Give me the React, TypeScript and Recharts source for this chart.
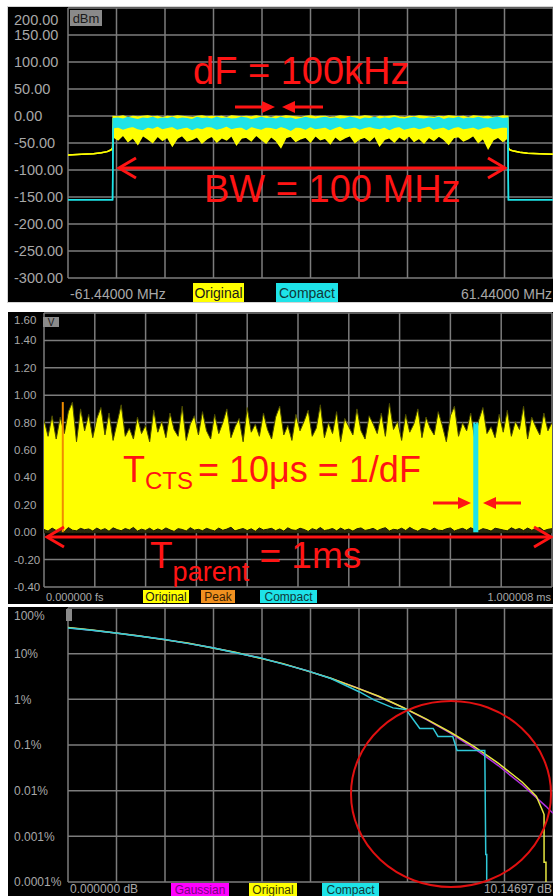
import React from 'react';
import { ComposedChart, Area, Line, XAxis, YAxis, CartesianGrid } from 'recharts';

const FONT = '"Liberation Sans", Arial, sans-serif';
const RED = '#ff1414';
const GRID = '#7c7c7c';
const LABEL = '#a8a8a8';

// ---------- panel 1: spectrum (dBm vs MHz) ----------
const specXTicks = [-61.44, -49.152, -36.864, -24.576, -12.288, 0, 12.288, 24.576, 36.864, 49.152, 61.44];
const specYTicks = [200, 150, 100, 50, 0, -50, -100, -150, -200, -250, -300];

const leftFreqs = [-61.44, -58, -55, -53, -51.5, -50.6, -50.15];
const leftOriginal = [-72, -71, -70, -68, -66, -63, -60];
const rightFreqs = [50.15, 50.6, 51.5, 53, 55, 58, 61.44];
const rightOriginal = [-60, -63, -65, -67, -69, -70, -71];
const compactFloor = -155;

// in-band samples, -50 MHz to +50 MHz every 1.25 MHz
const origLow = [
  -38, -44, -35, -47, -40, -52, -36, -42, -49, -37,
  -45, -39, -55, -41, -36, -46, -43, -38, -50, -42,
  -37, -48, -40, -44, -36, -53, -41, -39, -46, -35,
  -43, -50, -38, -45, -58, -40, -37, -47, -42, -39,
  -48, -36, -44, -41, -51, -38, -45, -40, -36, -49,
  -42, -39, -46, -37, -55, -43, -40, -48, -38, -44,
  -36, -47, -41, -50, -39, -45, -37, -43, -52, -40,
  -38, -46, -42, -36, -49, -41, -60, -44, -39, -47,
  -40,
];
const origHigh = [
  -1, -2, 0, -3, -1, -2, -1, 0, -2, -1,
  -3, -1, -2, 0, -1, -2, -3, -1, 0, -2,
  -1, -2, -1, -3, 0, -1, -2, -1, -2, 0,
  -2, -1, -3, -1, -2, 0, -1, -2, -3, -1,
  0, -2, -1, -1, -3, -2, 0, -1, -2, -1,
  -2, 0, -1, -3, -1, -2, -1, 0, -2, -3,
  -1, -2, 0, -1, -2, -3, -1, -2, 0, -1,
  -2, -1, -3, 0, -1, -2, -1, -3, -2, 0,
  -1,
];
const compactLow = [
  -22, -20, -24, -21, -19, -23, -25, -20, -22, -18,
  -23, -21, -19, -24, -22, -20, -25, -21, -23, -19,
  -20, -24, -22, -18, -23, -21, -20, -25, -19, -22,
  -24, -20, -21, -23, -19, -22, -26, -20, -21, -24,
  -19, -23, -22, -20, -25, -21, -18, -23, -22, -20,
  -24, -21, -19, -22, -23, -20, -25, -21, -19, -24,
  -22, -20, -23, -21, -18, -24, -22, -20, -25, -21,
  -19, -23, -22, -20, -24, -21, -19, -23, -22, -20,
  -21,
];
const compactHigh = [
  -5, -4, -6, -3, -5, -7, -4, -5, -3, -6,
  -4, -5, -3, -6, -4, -5, -7, -3, -5, -4,
  -6, -3, -5, -4, -6, -5, -3, -4, -7, -5,
  -3, -5, -4, -6, -3, -5, -4, -7, -5, -3,
  -5, -6, -4, -3, -5, -4, -6, -5, -3, -4,
  -7, -4, -5, -3, -6, -4, -5, -3, -5, -6,
  -4, -3, -5, -6, -4, -5, -3, -7, -4, -5,
  -3, -6, -4, -5, -3, -5, -6, -4, -3, -5,
  -4,
];

const spectrumRows = [
  ...leftFreqs.map((f, i) => ({ f, oLo: leftOriginal[i], oHi: leftOriginal[i], cLo: compactFloor, cHi: compactFloor })),
  ...origLow.map((v, i) => ({ f: -50 + i * 1.25, oLo: v, oHi: origHigh[i], cLo: compactLow[i], cHi: compactHigh[i] })),
  ...rightFreqs.map((f, i) => ({ f, oLo: rightOriginal[i], oHi: rightOriginal[i], cLo: compactFloor, cHi: compactFloor })),
];

// ---------- panel 2: time envelope (V vs ms) ----------
const timeXTicks = [0, 0.1, 0.2, 0.3, 0.4, 0.5, 0.6, 0.7, 0.8, 0.9, 1.000008];
const timeYTicks = [1.6, 1.4, 1.2, 1.0, 0.8, 0.6, 0.4, 0.2, 0, -0.2, -0.4];

const envelopeTop = [
  0.82, 0.70, 0.85, 0.68, 0.84, 0.72, 0.88, 0.95, 0.66, 0.90, 0.74, 0.86, 0.69, 0.83,
  0.91, 0.71, 0.87, 0.67, 0.80, 0.93, 0.70, 0.76, 0.68, 0.84, 0.72, 0.78, 0.66, 0.89,
  0.73, 0.81, 0.69, 0.87, 0.75, 0.70, 0.92, 0.67, 0.79, 0.85, 0.71, 0.88, 0.74, 0.68,
  0.86, 0.72, 0.80, 0.90, 0.69, 0.77, 0.83, 0.66, 0.91, 0.73, 0.79, 0.70, 0.87, 0.75,
  0.68, 0.84, 0.92, 0.71, 0.78, 0.67, 0.86, 0.74, 0.81, 0.89, 0.70, 0.76, 0.93, 0.69,
  0.80, 0.72, 0.88, 0.66, 0.83, 0.77, 0.71, 0.90, 0.74, 0.68, 0.85, 0.79, 0.72, 0.87,
  0.70, 0.94, 0.75, 0.81, 0.67, 0.86, 0.73, 0.79, 0.90, 0.69, 0.84, 0.76, 0.71, 0.88,
  0.78, 0.66, 0.85, 0.92, 0.70, 0.80, 0.74, 0.87, 0.68, 0.82, 0.91, 0.72, 0.77, 0.69,
  0.86, 0.73, 0.89, 0.70, 0.81, 0.75, 0.92, 0.68, 0.84, 0.77, 0.71, 0.87, 0.74, 0.80,
];
const envelopeFloor = [
  0.020, 0.008, 0.030, 0.012, 0.025, 0.006, 0.034, 0.015, 0.010, 0.028, 0.018, 0.024, 0.009, 0.030,
  0.014, 0.026, 0.007, 0.032, 0.019, 0.011, 0.027, 0.016, 0.035, 0.008, 0.022, 0.013, 0.029, 0.010,
  0.024, 0.012, 0.031, 0.017, 0.006, 0.026, 0.020, 0.009, 0.033, 0.015, 0.021, 0.011, 0.028, 0.018,
  0.009, 0.030, 0.014, 0.023, 0.036, 0.010, 0.019, 0.027, 0.012, 0.025, 0.007, 0.031, 0.016, 0.022,
  0.028, 0.011, 0.024, 0.008, 0.032, 0.017, 0.013, 0.029, 0.020, 0.006, 0.026, 0.015, 0.034, 0.012,
  0.018, 0.027, 0.010, 0.030, 0.014, 0.023, 0.008, 0.025, 0.031, 0.013, 0.019, 0.028, 0.011, 0.024,
  0.033, 0.009, 0.021, 0.016, 0.029, 0.012, 0.035, 0.018, 0.007, 0.027, 0.022, 0.010, 0.030, 0.015,
  0.012, 0.025, 0.031, 0.009, 0.020, 0.028, 0.014, 0.033, 0.017, 0.011, 0.026, 0.019, 0.008, 0.029,
  0.023, 0.016, 0.010, 0.032, 0.018, 0.027, 0.012, 0.030, 0.015, 0.024, 0.034, 0.011, 0.021, 0.026,
];
const envelopeRows = envelopeTop.map((v, i) => ({ t: i * 0.008, v, g: envelopeFloor[i] }));

const peakTime = [0.037, 0.037];
const peakLevel = [0, 0.95];
const peakRows = peakTime.map((t, i) => ({ t, v: peakLevel[i] }));

const compactTime = [0.845, 0.8475, 0.85, 0.8525, 0.855];
const compactLevel = [0.79, 0.8, 0.78, 0.8, 0.79];
const compactRows = compactTime.map((t, i) => ({ t, v: compactLevel[i] }));

// ---------- panel 3: CCDF (% vs dB) ----------
const ccdfXTicks = [0, 1.014697, 2.029394, 3.044091, 4.058788, 5.073485, 6.088182, 7.102879, 8.117576, 9.132273, 10.14697];
const ccdfYTicks = [100, 10, 1, 0.1, 0.01, 0.001, 0.0001];
const ccdfYLabels = ['100%', '10%', '1%', '0.1%', '0.01%', '0.001%', '0.0001%'];

const gaussDb = [0, 0.5, 1, 1.5, 2, 2.5, 3, 3.5, 4, 4.5, 5, 5.5, 6, 6.5, 7, 7.5, 8, 8.5, 9, 9.5, 10, 10.147];
const gaussPct = [36.8, 32.6, 28.4, 24.3, 20.5, 16.9, 13.6, 10.6, 8.1, 5.97, 4.23, 2.88, 1.87, 1.15, 0.666, 0.361, 0.182, 0.0842, 0.0355, 0.0135, 0.00454, 0.0032];

const origDb = [0, 0.5, 1, 1.5, 2, 2.5, 3, 3.5, 4, 4.5, 5, 5.5, 6, 6.5, 7, 7.5, 8, 8.5, 9, 9.5, 9.8, 9.94, 9.96, 9.96, 10.0, 10.0];
const origPct = [37.2, 32.9, 28.3, 24.5, 20.3, 17.1, 13.5, 10.7, 8.0, 6.05, 4.2, 2.9, 1.85, 1.17, 0.67, 0.37, 0.19, 0.092, 0.04, 0.0155, 0.0075, 0.0034, 0.003, 0.00027, 0.00027, 0.0001];

const compDb = [0, 0.5, 1, 1.5, 2, 2.5, 3, 3.5, 4, 4.5, 5, 5.5, 6.1, 6.4, 6.8, 7.07, 7.36, 7.64, 7.74, 8.05, 8.14, 8.72, 8.74, 8.76, 8.76];
const compPct = [36.6, 32.5, 28.5, 24.2, 20.6, 16.8, 13.7, 10.5, 8.2, 5.9, 4.25, 2.85, 1.45, 0.97, 0.65, 0.6, 0.23, 0.23, 0.154, 0.154, 0.0758, 0.0758, 0.0004, 0.0004, 0.0001];

const gaussRows = gaussDb.map((x, i) => ({ x, p: gaussPct[i] }));
const origRows = origDb.map((x, i) => ({ x, p: origPct[i] }));
const compRows = compDb.map((x, i) => ({ x, p: compPct[i] }));

// ---------- helpers ----------
const yTick = (fmt: (v: number) => string, size: number, topValue: number, topShift: number) => (props: any) => {
  const { y, payload } = props;
  const dy = payload.value === topValue ? topShift : 0;
  return (
    <text x={6} y={y + dy} dy="0.35em" fill={LABEL} fontSize={size} fontFamily={FONT} textAnchor="start">
      {fmt(payload.value)}
    </text>
  );
};

const xEndTicks = (first: number, last: number, left: string, right: string, labelY: number, size: number) => (props: any) => {
  const { x, payload } = props;
  if (payload.value === first)
    return <text x={x + 2} y={labelY} dy="0.35em" fill={LABEL} fontSize={size} fontFamily={FONT} textAnchor="start">{left}</text>;
  if (payload.value === last)
    return <text x={x - 1} y={labelY} dy="0.35em" fill={LABEL} fontSize={size} fontFamily={FONT} textAnchor="end">{right}</text>;
  return <g />;
};

const Tag = ({ x, y, w, h, bg, fg, size, label }: any) => (
  <g>
    <rect x={x} y={y} width={w} height={h} fill={bg} />
    <text x={x + w / 2} y={y + h / 2} dy="0.36em" textAnchor="middle" fill={fg} fontSize={size} fontFamily={FONT}>{label}</text>
  </g>
);

const Shaft = ({ x1, x2, y }: any) => <line x1={x1} x2={x2} y1={y} y2={y} stroke={RED} strokeWidth={3} />;
const TriHead = ({ x, y, dir }: any) => (
  <polygon points={`${x},${y} ${x - dir * 13},${y - 6} ${x - dir * 13},${y + 6}`} fill={RED} />
);
const Chevron = ({ x, y, dir }: any) => (
  <polyline points={`${x - dir * 17},${y - 10} ${x},${y} ${x - dir * 17},${y + 10}`} fill="none" stroke={RED} strokeWidth={3} />
);

const panelStyle = (top: number, height: number): React.CSSProperties => ({
  position: 'absolute', left: 8, top, width: 545, height, background: '#000', overflow: 'hidden',
});
const overlayStyle: React.CSSProperties = { position: 'absolute', left: 0, top: 0, pointerEvents: 'none' };

export default function App() {
  return (
    <div style={{ position: 'absolute', left: 0, top: 0, width: 553, height: 896, background: '#fff' }}>
      <div style={{ position: 'absolute', left: 7, top: 6, width: 546, height: 297, background: '#d4d4d4' }} />

      {/* spectrum */}
      <div style={panelStyle(7, 295)}>
        <ComposedChart width={545} height={295} data={spectrumRows} margin={{ top: 1, right: 0, bottom: 0, left: 0 }}>
          <CartesianGrid stroke={GRID} strokeWidth={1.5} />
          <XAxis type="number" dataKey="f" domain={[-61.44, 61.44]} ticks={specXTicks} interval={0} height={24}
            axisLine={false} tickLine={false} allowDataOverflow
            tick={xEndTicks(-61.44, 61.44, '-61.44000 MHz', '61.44000 MHz', 287, 14)} />
          <YAxis type="number" domain={[-300, 200]} ticks={specYTicks} interval={0} width={60}
            axisLine={false} tickLine={false} allowDataOverflow
            tick={yTick((v) => v.toFixed(2), 14.5, 200, 12)} />
          <Area type="linear" dataKey={(d: any) => [d.oLo, d.oHi]} stroke="#ffff00" strokeWidth={1.5}
            fill="#ffff00" fillOpacity={1} dot={false} activeDot={false} isAnimationActive={false} />
          <Area type="linear" dataKey={(d: any) => [d.cLo, d.cHi]} stroke="#1ee3e8" strokeWidth={1.5}
            fill="#1ee3e8" fillOpacity={1} dot={false} activeDot={false} isAnimationActive={false} />
        </ComposedChart>
        <svg width={545} height={295} style={overlayStyle}>
          <Tag x={62} y={3} w={32} h={16} bg="#8a8a8a" fg="#1a1a1a" size={13} label="dBm" />
          <text x={185} y={77} fill={RED} fontSize={38} fontFamily={FONT}>dF = 100kHz</text>
          <Shaft x1={227} x2={257} y={100} />
          <TriHead x={267} y={100} dir={1} />
          <Shaft x1={284} x2={315} y={100} />
          <TriHead x={274} y={100} dir={-1} />
          <Shaft x1={112} x2={496} y={161} />
          <Chevron x={111} y={161} dir={-1} />
          <Chevron x={497} y={161} dir={1} />
          <text x={196} y={195} fill={RED} fontSize={38} fontFamily={FONT}>BW = 100 MHz</text>
          <Tag x={185} y={276} w={51} h={19} bg="#ffff00" fg="#1a1a1a" size={14} label="Original" />
          <Tag x={268} y={276} w={62} h={19} bg="#1ee3e8" fg="#103838" size={14} label="Compact" />
        </svg>
      </div>

      {/* time envelope */}
      <div style={panelStyle(312, 292)}>
        <ComposedChart width={545} height={292} margin={{ top: 1, right: 1, bottom: 0, left: 0 }}>
          <CartesianGrid stroke={GRID} strokeWidth={1.5} />
          <XAxis type="number" dataKey="t" domain={[0, 1.000008]} ticks={timeXTicks} interval={0} height={17}
            axisLine={false} tickLine={false} allowDataOverflow
            tick={xEndTicks(0, 1.000008, '0.000000 fs', '1.000008 ms', 285, 11)} />
          <YAxis type="number" domain={[-0.4, 1.6]} ticks={timeYTicks} interval={0} width={36}
            axisLine={false} tickLine={false} allowDataOverflow
            tick={yTick((v) => v.toFixed(2), 11.5, 1.6, 7)} />
          <Area data={envelopeRows} type="linear" dataKey="v" baseValue={0} stroke="#4a4a00" strokeWidth={1}
            fill="#ffff00" fillOpacity={1} dot={false} activeDot={false} isAnimationActive={false} />
          <Area data={envelopeRows} type="linear" dataKey={(d: any) => [-0.004, d.g]} stroke="#1c1c00" strokeWidth={1}
            fill="#2a2a10" fillOpacity={1} dot={false} activeDot={false} isAnimationActive={false} />
          <Line data={peakRows} type="linear" dataKey="v" stroke="#f08c00" strokeWidth={2}
            dot={false} activeDot={false} isAnimationActive={false} />
          <Area data={compactRows} type="linear" dataKey="v" baseValue={0} stroke="#1ee3e8" strokeWidth={1}
            fill="#1ee3e8" fillOpacity={1} dot={false} activeDot={false} isAnimationActive={false} />
        </ComposedChart>
        <svg width={545} height={292} style={overlayStyle}>
          <Tag x={35} y={5} w={16} h={10} bg="#8a8a8a" fg="#1a1a1a" size={10} label="V" />
          <text x={115} y={170} fill={RED} fontFamily={FONT} fontSize={36}>
            T<tspan fontSize={24} dy={7}>CTS</tspan><tspan dy={-7} dx={5}>= 10μs = 1/dF</tspan>
          </text>
          <Shaft x1={425} x2={452} y={191} />
          <TriHead x={463} y={191} dir={1} />
          <Shaft x1={486} x2={513} y={191} />
          <TriHead x={475} y={191} dir={-1} />
          <Shaft x1={40} x2={542} y={225} />
          <Chevron x={39} y={225} dir={-1} />
          <Chevron x={543} y={225} dir={1} />
          <text x={142} y={256} fill={RED} fontFamily={FONT} fontSize={37}>
            T<tspan fontSize={27} dy={13}>parent</tspan><tspan dy={-13}> = 1ms</tspan>
          </text>
          <Tag x={135} y={278} w={46} h={13} bg="#ffff00" fg="#1a1a1a" size={12} label="Original" />
          <Tag x={193} y={278} w={34} h={13} bg="#f09020" fg="#3a2000" size={12} label="Peak" />
          <Tag x={252} y={278} w={57} h={13} bg="#1ee3e8" fg="#103838" size={12} label="Compact" />
        </svg>
      </div>

      {/* CCDF */}
      <div style={panelStyle(607, 289)}>
        <ComposedChart width={545} height={289} margin={{ top: 1, right: 0, bottom: 0, left: 0 }}>
          <CartesianGrid stroke={GRID} strokeWidth={1.5} />
          <XAxis type="number" dataKey="x" domain={[0, 10.14697]} ticks={ccdfXTicks} interval={0} height={14}
            axisLine={false} tickLine={false} allowDataOverflow
            tick={xEndTicks(0, 10.14697, '0.000000 dB', '10.14697 dB', 282, 12)} />
          <YAxis type="number" scale="log" domain={[0.0001, 100]} ticks={ccdfYTicks} interval={0} width={60}
            axisLine={false} tickLine={false} allowDataOverflow
            tick={yTick((v) => ccdfYLabels[ccdfYTicks.indexOf(v)], 12, 100, 8)} />
          <Line data={gaussRows} type="linear" dataKey="p" stroke="#b030e0" strokeWidth={1.5}
            dot={false} activeDot={false} isAnimationActive={false} />
          <Line data={origRows} type="linear" dataKey="p" stroke="#e6e640" strokeWidth={1.5}
            dot={false} activeDot={false} isAnimationActive={false} />
          <Line data={compRows} type="linear" dataKey="p" stroke="#30c8d8" strokeWidth={1.5}
            dot={false} activeDot={false} isAnimationActive={false} />
        </ComposedChart>
        <svg width={545} height={289} style={overlayStyle}>
          <rect x={58} y={2} width={6} height={12} fill="#8a8a8a" />
          <ellipse cx={443} cy={187} rx={100} ry={93} fill="none" stroke="#e01010" strokeWidth={2} />
          <Tag x={163} y={276} w={58} h={13} bg="#ff00ff" fg="#7a0080" size={12} label="Gaussian" />
          <Tag x={241} y={276} w={48} h={13} bg="#ffff00" fg="#3a3a00" size={12} label="Original" />
          <Tag x={314} y={276} w={57} h={13} bg="#1ee3e8" fg="#103838" size={12} label="Compact" />
        </svg>
      </div>
    </div>
  );
}
